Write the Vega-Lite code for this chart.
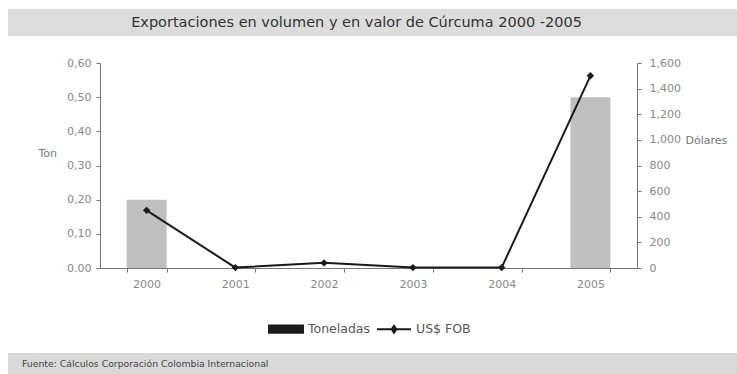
{
  "$schema": "https://vega.github.io/schema/vega-lite/v6.json",
  "background": "white",
  "padding": {"top": 9, "left": 8, "right": 0, "bottom": 0},
  "config": {"font": "DejaVu Sans", "view": {"stroke": null}},
  "spacing": 16,
  "resolve": {"scale": {"color": "independent"}, "legend": {"color": "independent"}},
  "vconcat": [
    {
      "spacing": 21,
      "resolve": {"scale": {"color": "independent"}, "legend": {"color": "independent"}},
      "vconcat": [
        {
          "width": 729,
          "height": 27,
          "view": {"fill": "#dcdcdc", "stroke": null},
          "data": {"values": [{"t": "Exportaciones en volumen y en valor de Cúrcuma 2000 -2005"}]},
          "mark": {"type": "text", "fontSize": 14.5, "color": "#333", "dx": -16, "baseline": "middle"},
          "encoding": {"text": {"field": "t"}}
        },
        {
          "width": 729,
          "height": 205,
          "data": {
            "values": [
              {"anio": "2000", "ton": 0.20, "usd": 450},
              {"anio": "2001", "ton": 0, "usd": 3},
              {"anio": "2002", "ton": 0, "usd": 40},
              {"anio": "2003", "ton": 0, "usd": 3},
              {"anio": "2004", "ton": 0, "usd": 3},
              {"anio": "2005", "ton": 0.50, "usd": 1500}
            ]
          },
          "encoding": {
            "x": {
              "field": "anio",
              "type": "ordinal",
              "scale": {"range": [92, 629], "paddingInner": 0.55, "paddingOuter": 0.3},
              "axis": {
                "title": null,
                "labelAngle": 0,
                "tickBand": "extent",
                "domainColor": "#777",
                "tickColor": "#777",
                "tickSize": 4,
                "labelColor": "#888",
                "labelFontSize": 11,
                "labelPadding": 6
              }
            }
          },
          "layer": [
            {
              "mark": {"type": "bar", "fill": "#bfbfbf"},
              "encoding": {
                "y": {
                  "field": "ton",
                  "type": "quantitative",
                  "scale": {"domain": [0, 0.6]},
                  "axis": {
                    "orient": "left",
                    "offset": -92,
                    "values": [0, 0.1, 0.2, 0.3, 0.4, 0.5, 0.6],
                    "labelExpr": "datum.value === 0 ? '0.00' : replace(format(datum.value, '.2f'), '.', ',')",
                    "grid": false,
                    "domainColor": "#777",
                    "tickColor": "#777",
                    "tickSize": 4,
                    "labelColor": "#888",
                    "labelFontSize": 11,
                    "labelPadding": 5,
                    "title": "Ton",
                    "titleAngle": 0,
                    "titleX": -62,
                    "titleY": 90,
                    "titleAlign": "left",
                    "titleBaseline": "middle",
                    "titleFontWeight": "normal",
                    "titleFontSize": 11,
                    "titleColor": "#777"
                  }
                }
              }
            },
            {
              "mark": {
                "type": "line",
                "strokeWidth": 2,
                "point": {"shape": "diamond", "size": 55, "filled": true}
              },
              "encoding": {
                "y": {
                  "field": "usd",
                  "type": "quantitative",
                  "scale": {"domain": [0, 1600]},
                  "axis": {
                    "orient": "right",
                    "offset": -100,
                    "values": [0, 200, 400, 600, 800, 1000, 1200, 1400, 1600],
                    "labelExpr": "format(datum.value, ',d')",
                    "grid": false,
                    "domainColor": "#777",
                    "tickColor": "#777",
                    "tickSize": 4,
                    "labelColor": "#888",
                    "labelFontSize": 11,
                    "labelPadding": 8,
                    "title": "Dólares",
                    "titleAngle": 0,
                    "titleX": 48,
                    "titleY": 77,
                    "titleAlign": "left",
                    "titleBaseline": "middle",
                    "titleFontWeight": "normal",
                    "titleFontSize": 11,
                    "titleColor": "#777"
                  }
                },
                "color": {
                  "datum": "US$ FOB",
                  "type": "nominal",
                  "scale": {"domain": ["Toneladas", "US$ FOB"], "range": ["#1a1a1a", "#1a1a1a"]},
                  "legend": {
                    "orient": "none",
                    "legendX": 260,
                    "legendY": 248,
                    "direction": "horizontal",
                    "title": null,
                    "symbolSize": 1150,
                    "symbolStrokeWidth": 2,
                    "labelFontSize": 12.5,
                    "labelColor": "#555",
                    "labelOffset": 4,
                    "columnPadding": 2,
                    "encode": {
                      "symbols": {
                        "update": {
                          "shape": {"signal": "datum.value === 'Toneladas' ? 'M-1,-0.22H1V0.22H-1Z' : 'M-1,0H1M0,-0.2L0.14,0L0,0.2L-0.14,0Z'"},
                          "fill": {"value": "#1a1a1a"},
                          "stroke": {"value": "#1a1a1a"},
                          "opacity": {"value": 1}
                        }
                      }
                    }
                  }
                }
              }
            }
          ],
          "resolve": {"scale": {"y": "independent"}}
        }
      ]
    },
    {
      "width": 729,
      "height": 21,
      "view": {"fill": "#d9d9d9", "stroke": null},
      "data": {"values": [{"t": "Fuente: Cálculos Corporación Colombia Internacional"}]},
      "mark": {"type": "text", "fontSize": 9.3, "color": "#444", "align": "left", "dx": 14, "baseline": "middle"},
      "encoding": {
        "text": {"field": "t"},
        "x": {"datum": 0, "type": "quantitative", "scale": {"domain": [0, 1]}, "axis": null}
      }
    }
  ]
}
